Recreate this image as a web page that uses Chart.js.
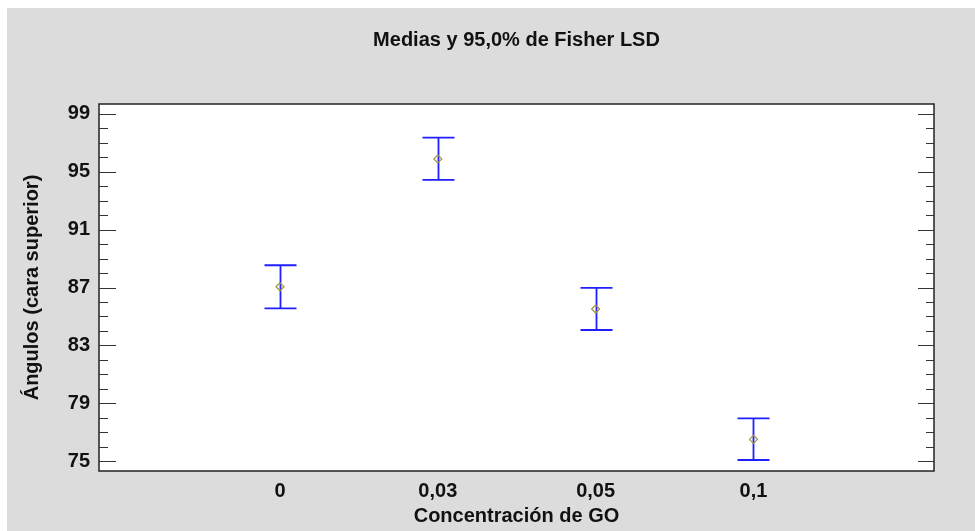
<!DOCTYPE html>
<html>
<head>
<meta charset="utf-8">
<script src="https://cdn.jsdelivr.net/npm/chart.js@4/dist/chart.umd.min.js"></script>
<style>
  html, body { margin: 0; padding: 0; background: #ffffff; }
  canvas { display: block; }
</style>
</head>
<body>
<canvas id="c" width="975" height="531"></canvas>
<script>
// ---- data ----
const categories = ["0", "0,03", "0,05", "0,1"];
const means = [87.05, 95.89, 85.51, 76.50];
const lowerLimits = [85.56, 94.44, 84.06, 75.07];
const upperLimits = [88.54, 97.36, 86.97, 77.95];
const yMajorTicks = [75, 79, 83, 87, 91, 95, 99];
const yMinorTicks = [76, 77, 78, 80, 81, 82, 84, 85, 86, 88, 89, 90, 92, 93, 94, 96, 97, 98];

const titleText = "Medias y 95,0% de Fisher LSD";
const xTitle = "Concentración de GO";
const yTitle = "Ángulos (cara superior)";

const FONT = "'Liberation Sans', Arial, Helvetica, sans-serif";

const bgPlugin = {
  id: 'bg',
  afterLayout(chart) {
    // centre the title over the plot area, as in the reference
    const tb = chart.titleBlock;
    if (tb) {
      tb.left = chart.chartArea.left;
      tb.right = chart.chartArea.right;
      tb.width = tb.right - tb.left;
    }
  },
  beforeDraw(chart) {
    const { ctx, chartArea: a, width, height } = chart;
    ctx.save();
    ctx.fillStyle = '#ffffff';
    ctx.fillRect(0, 0, width, height);
    ctx.fillStyle = '#dcdcdc';
    ctx.fillRect(7, 8, width - 7, height - 8);
    ctx.fillStyle = '#ffffff';
    ctx.fillRect(a.left, a.top, a.right - a.left, a.bottom - a.top);
    ctx.restore();
  },
  afterDraw(chart) {
    const { ctx, chartArea: a, scales } = chart;
    const y = scales.y;
    ctx.save();
    ctx.strokeStyle = '#222222';
    ctx.lineWidth = 1.5;
    ctx.strokeRect(a.left, a.top, a.right - a.left, a.bottom - a.top);
    ctx.lineWidth = 1.2;
    ctx.strokeStyle = '#333333';
    const drawTick = (v, lenL, lenR) => {
      const py = Math.round(y.getPixelForValue(v)) + 0.5;
      ctx.beginPath();
      ctx.moveTo(a.left, py); ctx.lineTo(a.left + lenL, py);
      ctx.moveTo(a.right, py); ctx.lineTo(a.right - lenR, py);
      ctx.stroke();
    };
    yMajorTicks.forEach(v => drawTick(v, 17, 16));
    yMinorTicks.forEach(v => drawTick(v, 9, 8));
    ctx.restore();
  }
};

const errorBarPlugin = {
  id: 'errbars',
  beforeDatasetsDraw(chart) {
    const { ctx, scales } = chart;
    const xs = scales.x, ys = scales.y;
    ctx.save();
    ctx.strokeStyle = '#1f1fff';
    ctx.lineWidth = 1.8;
    categories.forEach((c, i) => {
      const px = Math.round(xs.getPixelForValue(i)) + 0.5;
      const pTop = ys.getPixelForValue(upperLimits[i]);
      const pBot = ys.getPixelForValue(lowerLimits[i]);
      ctx.beginPath();
      ctx.moveTo(px, pTop); ctx.lineTo(px, pBot);
      ctx.moveTo(px - 16, pTop); ctx.lineTo(px + 16, pTop);
      ctx.moveTo(px - 16, pBot); ctx.lineTo(px + 16, pBot);
      ctx.stroke();
    });
    ctx.restore();
  }
};

new Chart(document.getElementById('c'), {
  type: 'scatter',
  data: {
    datasets: [{
      data: means.map((m, i) => ({ x: i, y: m })),
      pointStyle: 'rectRot',
      pointRadius: 4,
      pointBorderWidth: 1.2,
      pointBorderColor: '#9e9440',
      pointBackgroundColor: 'rgba(255,255,255,0)',
      showLine: false
    }]
  },
  options: {
    responsive: false,
    animation: false,
    devicePixelRatio: 1,
    layout: { padding: { left: 0, right: 41, top: 0, bottom: 0 } },
    plugins: {
      legend: { display: false },
      tooltip: { enabled: false },
      title: {
        display: true,
        text: titleText,
        color: '#111111',
        font: { family: FONT, size: 20, weight: 'bold', lineHeight: 1.2 },
        padding: { top: 28, bottom: 52 }
      }
    },
    scales: {
      x: {
        type: 'linear',
        min: -1.147,
        max: 4.144,
        grid: { display: false, drawTicks: false },
        border: { display: false },
        afterBuildTicks(scale) {
          scale.ticks = categories.map((c, i) => ({ value: i }));
        },
        afterFit(scale) { scale.height = 60; },
        ticks: {
          autoSkip: false,
          maxRotation: 0,
          padding: 8,
          color: '#111111',
          font: { family: FONT, size: 20, weight: 'bold' },
          callback: (v) => categories[v] !== undefined ? categories[v] : ''
        },
        title: {
          display: true,
          text: xTitle,
          color: '#111111',
          font: { family: FONT, size: 20, weight: 'bold', lineHeight: 1.2 },
          padding: { top: 0, bottom: 3 }
        }
      },
      y: {
        type: 'linear',
        min: 74.31,
        max: 99.69,
        grid: { display: false, drawTicks: false },
        border: { display: false },
        afterBuildTicks(scale) {
          scale.ticks = yMajorTicks.map(v => ({ value: v }));
        },
        afterFit(scale) { scale.width = 99; },
        ticks: {
          padding: 9,
          color: '#111111',
          font: { family: FONT, size: 20, weight: 'bold' }
        },
        title: {
          display: true,
          text: yTitle,
          color: '#111111',
          font: { family: FONT, size: 20, weight: 'bold', lineHeight: 1.2 },
          padding: { top: 20, bottom: 0 }
        }
      }
    }
  },
  plugins: [bgPlugin, errorBarPlugin]
});
</script>
</body>
</html>
